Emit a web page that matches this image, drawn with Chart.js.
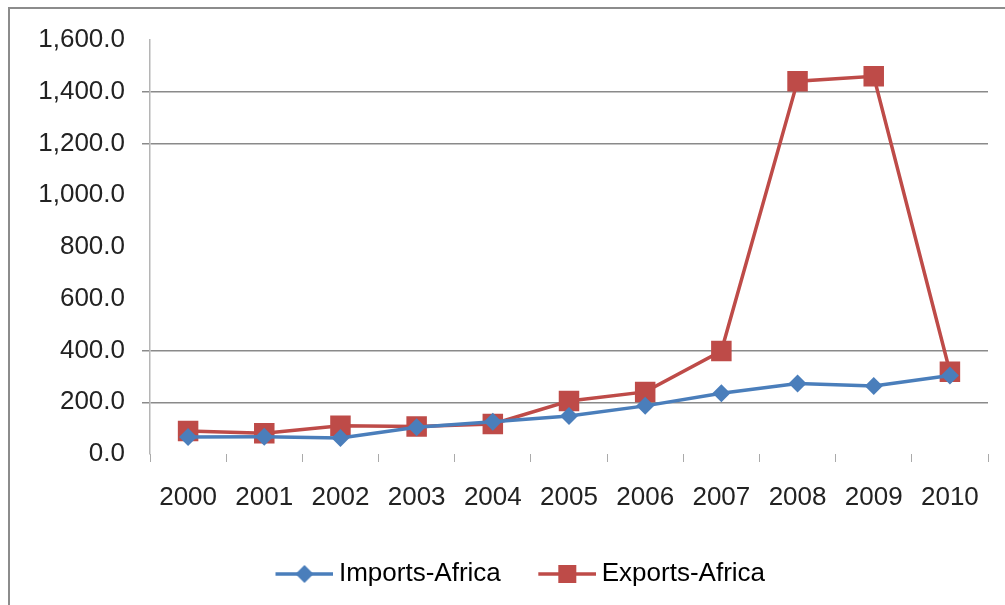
<!DOCTYPE html>
<html>
<head>
<meta charset="utf-8">
<script src="https://cdn.jsdelivr.net/npm/chart.js@4"></script>
<style>
  body { margin: 0; background: #fff; }
  #frame { position: absolute; left: 8px; top: 7px; width: 1100px; height: 700px; border: 2px solid #8c8c8c; }
  #wrap { position: absolute; left: 0; top: 0; width: 1005px; height: 605px; }
</style>
</head>
<body>
<div id="frame"></div>
<div id="wrap"><canvas id="myChart" width="1005" height="605"></canvas></div>
<script>
const years = ["2000", "2001", "2002", "2003", "2004", "2005", "2006", "2007", "2008", "2009", "2010"];
const importsAfrica = [66, 67, 62, 103, 125, 147, 186, 235, 272, 263, 303];
const exportsAfrica = [89, 80, 109, 106, 116, 205, 240, 398, 1441, 1460, 318];
const yTicksShown = [200, 400, 1200, 1400]; // gridlines that are visible in the picture

const blue = "#4a7ebb";
const red = "#be4b48";
const font = { family: "Liberation Sans", size: 26 };

// legend sample: line with marker; drawn right of centre so the text sits close to it
function legendSample(color, shape) {
    const c = document.createElement("canvas");
    c.width = 91; c.height = 24;
    const ctx = c.getContext("2d");
    ctx.strokeStyle = color;
    ctx.lineWidth = 3.5;
    ctx.beginPath();
    ctx.moveTo(33, 12); ctx.lineTo(91, 12);
    ctx.stroke();
    ctx.fillStyle = color;
    ctx.beginPath();
    if (shape === "square") {
        ctx.rect(53, 3, 18, 18);
    } else {
        ctx.moveTo(62, 3); ctx.lineTo(71, 12); ctx.lineTo(62, 21); ctx.lineTo(53, 12);
        ctx.closePath();
    }
    ctx.fill();
    return c;
}

new Chart(document.getElementById('myChart'), {
    type: 'line',
    data: {
        labels: years,
        datasets: [{
            label: 'Imports-Africa',
            data: importsAfrica,
            borderColor: blue,
            backgroundColor: blue,
            borderWidth: 3.5,
            pointStyle: 'rectRot',
            pointRadius: 9,
            pointBorderWidth: 0,
            tension: 0
        }, {
            label: 'Exports-Africa',
            data: exportsAfrica,
            borderColor: red,
            backgroundColor: red,
            borderWidth: 3.5,
            pointStyle: 'rect',
            pointRadius: 14.5,
            pointBorderWidth: 0,
            tension: 0
        }]
    },
    options: {
        responsive: false,
        animation: false,
        layout: { padding: { left: 27, top: 40, right: 17, bottom: 8 } },
        plugins: {
            tooltip: { enabled: false },
            legend: {
                position: 'bottom',
                labels: {
                    font: font,
                    color: '#222',
                    usePointStyle: true,
                    pointStyleWidth: 76,
                    padding: 12,
                    generateLabels: function (chart) {
                        return [
                            { text: 'Imports-Africa', pointStyle: legendSample(blue, 'diamond'), fillStyle: blue, strokeStyle: blue, lineWidth: 0, datasetIndex: 0 },
                            { text: 'Exports-Africa', pointStyle: legendSample(red, 'square'), fillStyle: red, strokeStyle: red, lineWidth: 0, datasetIndex: 1 }
                        ];
                    }
                }
            }
        },
        scales: {
            x: {
                offset: true,
                grid: {
                    offset: true,
                    drawOnChartArea: false,
                    drawTicks: true,
                    tickLength: 8,
                    color: '#aaa'
                },
                border: { display: false },
                ticks: { font: font, color: '#222', padding: 20, maxRotation: 0 },
                afterFit: function (scale) { scale.height = 95; }
            },
            y: {
                min: 0,
                max: 1600,
                ticks: {
                    stepSize: 200,
                    font: font,
                    color: '#222',
                    padding: 17,
                    callback: v => v.toLocaleString('en-US', { minimumFractionDigits: 1, maximumFractionDigits: 1 })
                },
                grid: {
                    tickLength: 8,
                    lineWidth: 1.5,
                    color: ctx => yTicksShown.includes(ctx.tick && ctx.tick.value) ? '#8a8a8a' : 'rgba(0,0,0,0)'
                },
                border: { display: true, color: '#b5b5b5', width: 1.5 },
                afterFit: function (scale) { scale.width = 123; }
            }
        }
    }
});
</script>
</body>
</html>
